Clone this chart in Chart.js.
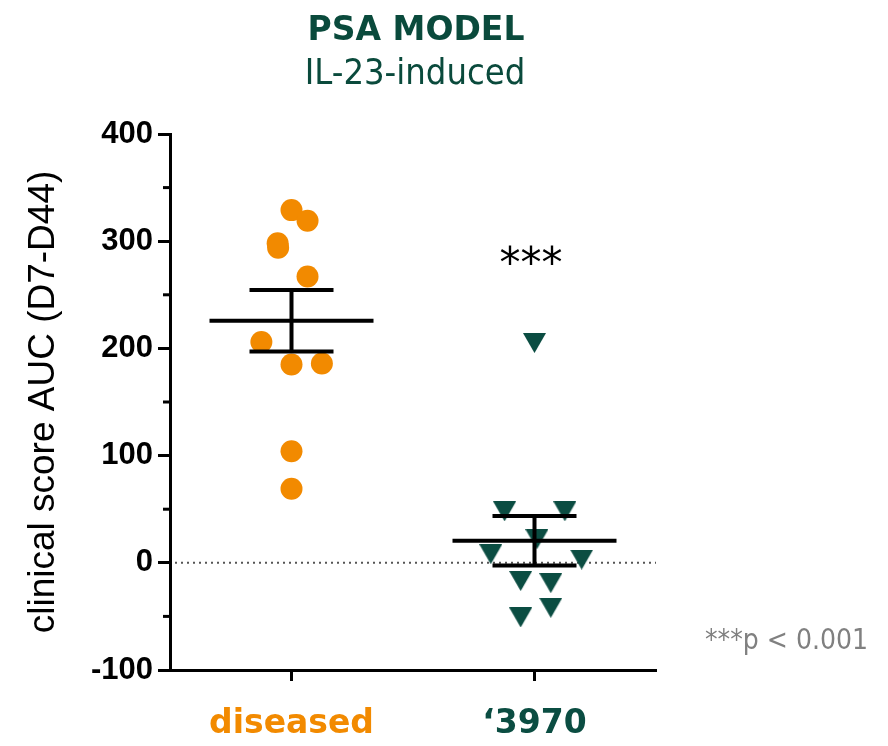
<!DOCTYPE html>
<html lang="en">
<head>
    <title>PSA model - IL-23-induced</title>
    <script src="https://cdn.jsdelivr.net/npm/chart.js"></script>
    <style>
        body {
            margin: 0;
            background: #fff;
        }
    </style>
</head>
<body>
    <canvas id="psaChart" width="888" height="746"></canvas>

    <script>
        // groups on the x axis
        const groups = ['diseased', '\u20183970'];

        // clinical score AUC (D7-D44), one value per animal
        const diseased = [329, 319, 298, 294, 267, 206, 185, 186, 104, 69];
        const cpd3970 = [205, 48, 48, 22, 8, 3, -17, -19, -42, -51];

        // sideways spread of the dots inside each column (in column units)
        const diseasedSpread = [0, 0.066, -0.057, -0.055, 0.066, -0.124, 0, 0.125, 0, 0];
        const cpd3970Spread = [0, -0.123, 0.125, 0.01, -0.18, 0.194, -0.057, 0.067, 0.067, -0.057];

        // y axis
        const yMin = -100;
        const yMax = 400;
        const yStep = 100;
        const yMinorStep = 50;

        const orange = '#f28a00';
        const green = '#0b4d42';
        const groupColors = [orange, green];

        function mean(arr) {
            return arr.reduce((a, b) => a + b, 0) / arr.length;
        }
        function sem(arr) {
            const m = mean(arr);
            const v = arr.reduce((a, b) => a + (b - m) * (b - m), 0) / (arr.length - 1);
            return Math.sqrt(v / arr.length);
        }

        // down pointing triangle, centred on its box like the original plot
        const tri = document.createElement('canvas');
        tri.width = 23;
        tri.height = 20;
        const tctx = tri.getContext('2d');
        tctx.fillStyle = green;
        tctx.beginPath();
        tctx.moveTo(0, 0);
        tctx.lineTo(23, 0);
        tctx.lineTo(11.5, 20);
        tctx.closePath();
        tctx.fill();

        const zeroLine = {
            id: 'zeroLine',
            beforeDatasetsDraw(chart) {
                const { ctx, chartArea, scales } = chart;
                const y = scales.y.getPixelForValue(0);
                ctx.save();
                ctx.strokeStyle = '#555';
                ctx.lineWidth = 2;
                ctx.setLineDash([2, 4]);
                ctx.beginPath();
                ctx.moveTo(chartArea.left + 5, y);
                ctx.lineTo(chartArea.right, y);
                ctx.stroke();
                ctx.restore();
            }
        };

        const meanSem = {
            id: 'meanSem',
            afterDatasetsDraw(chart) {
                const { ctx, scales } = chart;
                ctx.save();
                ctx.strokeStyle = '#000';
                ctx.lineWidth = 4;
                [diseased, cpd3970].forEach((vals, i) => {
                    const cx = scales.x.getPixelForValue(i + 1);
                    const m = mean(vals), s = sem(vals);
                    const ym = scales.y.getPixelForValue(m);
                    const yt = scales.y.getPixelForValue(m + s);
                    const yb = scales.y.getPixelForValue(m - s);
                    ctx.beginPath();
                    ctx.moveTo(cx - 82, ym); ctx.lineTo(cx + 82, ym);
                    ctx.moveTo(cx - 42, yt); ctx.lineTo(cx + 42, yt);
                    ctx.moveTo(cx - 42, yb); ctx.lineTo(cx + 42, yb);
                    ctx.moveTo(cx, yt); ctx.lineTo(cx, yb);
                    ctx.stroke();
                });
                ctx.restore();
            }
        };

        const minorTicks = {
            id: 'minorTicks',
            afterDraw(chart) {
                const { ctx, chartArea, scales } = chart;
                ctx.save();
                ctx.strokeStyle = '#000';
                ctx.lineWidth = 3;
                for (let v = yMin + yMinorStep; v < yMax; v += yStep) {
                    const py = scales.y.getPixelForValue(v);
                    ctx.beginPath();
                    ctx.moveTo(chartArea.left - 7, py);
                    ctx.lineTo(chartArea.left, py);
                    ctx.stroke();
                }
                ctx.restore();
            }
        };

        const texts = {
            id: 'texts',
            afterDraw(chart) {
                const ctx = chart.ctx;
                ctx.save();
                ctx.textAlign = 'center';
                ctx.textBaseline = 'alphabetic';
                ctx.fillStyle = '#0a4a3c';
                ctx.font = 'bold 33px "DejaVu Sans"';
                ctx.fillText('PSA MODEL', 416, 40);
                ctx.font = '36px "DejaVu Sans Condensed", "DejaVu Sans"';
                ctx.fillText('IL-23-induced', 415, 84);

                ctx.fillStyle = '#000';
                ctx.font = '42px "DejaVu Sans"';
                ctx.fillText('***', 531, 277);

                ctx.textAlign = 'left';
                ctx.fillStyle = '#808080';
                ctx.font = '28px "DejaVu Sans Condensed", "DejaVu Sans"';
                ctx.fillText('***p < 0.001', 705, 649);
                ctx.restore();
            }
        };

        new Chart(document.getElementById('psaChart'), {
            type: 'scatter',
            data: {
                datasets: [{
                    label: groups[0],
                    data: diseased.map((v, i) => ({ x: 1 + diseasedSpread[i], y: v })),
                    pointStyle: 'circle',
                    pointRadius: 11,
                    pointBorderWidth: 0,
                    backgroundColor: orange,
                    borderColor: orange
                }, {
                    label: groups[1],
                    data: cpd3970.map((v, i) => ({ x: 2 + cpd3970Spread[i], y: v })),
                    pointStyle: tri,
                    pointRadius: 11,
                    pointBorderWidth: 0,
                    backgroundColor: green,
                    borderColor: green
                }]
            },
            options: {
                responsive: false,
                animation: false,
                layout: {
                    padding: { top: 134, right: 232, left: 0, bottom: 0 }
                },
                plugins: {
                    legend: { display: false },
                    tooltip: { enabled: false }
                },
                scales: {
                    x: {
                        type: 'linear',
                        min: 0.5,
                        max: 2.5,
                        afterBuildTicks: (scale) => {
                            scale.ticks = groups.map((g, i) => ({ value: i + 1 }));
                        },
                        afterFit: (scale) => { scale.height = 76; },
                        ticks: {
                            autoSkip: false,
                            maxRotation: 0,
                            padding: 24,
                            callback: (value, index) => groups[index],
                            color: (c) => groupColors[c.index],
                            font: { family: '"DejaVu Sans"', weight: 'bold', size: 33 }
                        },
                        grid: {
                            drawOnChartArea: false,
                            tickLength: 11,
                            tickColor: '#000',
                            tickWidth: 3
                        },
                        border: { color: '#000', width: 3 }
                    },
                    y: {
                        min: yMin,
                        max: yMax,
                        afterFit: (scale) => { scale.width = 170; },
                        ticks: {
                            stepSize: yStep,
                            padding: 5,
                            color: '#000',
                            font: { family: '"Liberation Sans", Arial', weight: 'bold', size: 31 }
                        },
                        grid: {
                            drawOnChartArea: false,
                            tickLength: 12,
                            tickColor: '#000',
                            tickWidth: 3
                        },
                        border: { color: '#000', width: 3 },
                        title: {
                            display: true,
                            text: 'clinical score AUC (D7-D44)',
                            color: '#000',
                            padding: { top: 22, bottom: 0 },
                            font: { family: '"Liberation Sans", Arial', size: 37 }
                        }
                    }
                }
            },
            plugins: [zeroLine, meanSem, minorTicks, texts]
        });
    </script>
</body>
</html>
